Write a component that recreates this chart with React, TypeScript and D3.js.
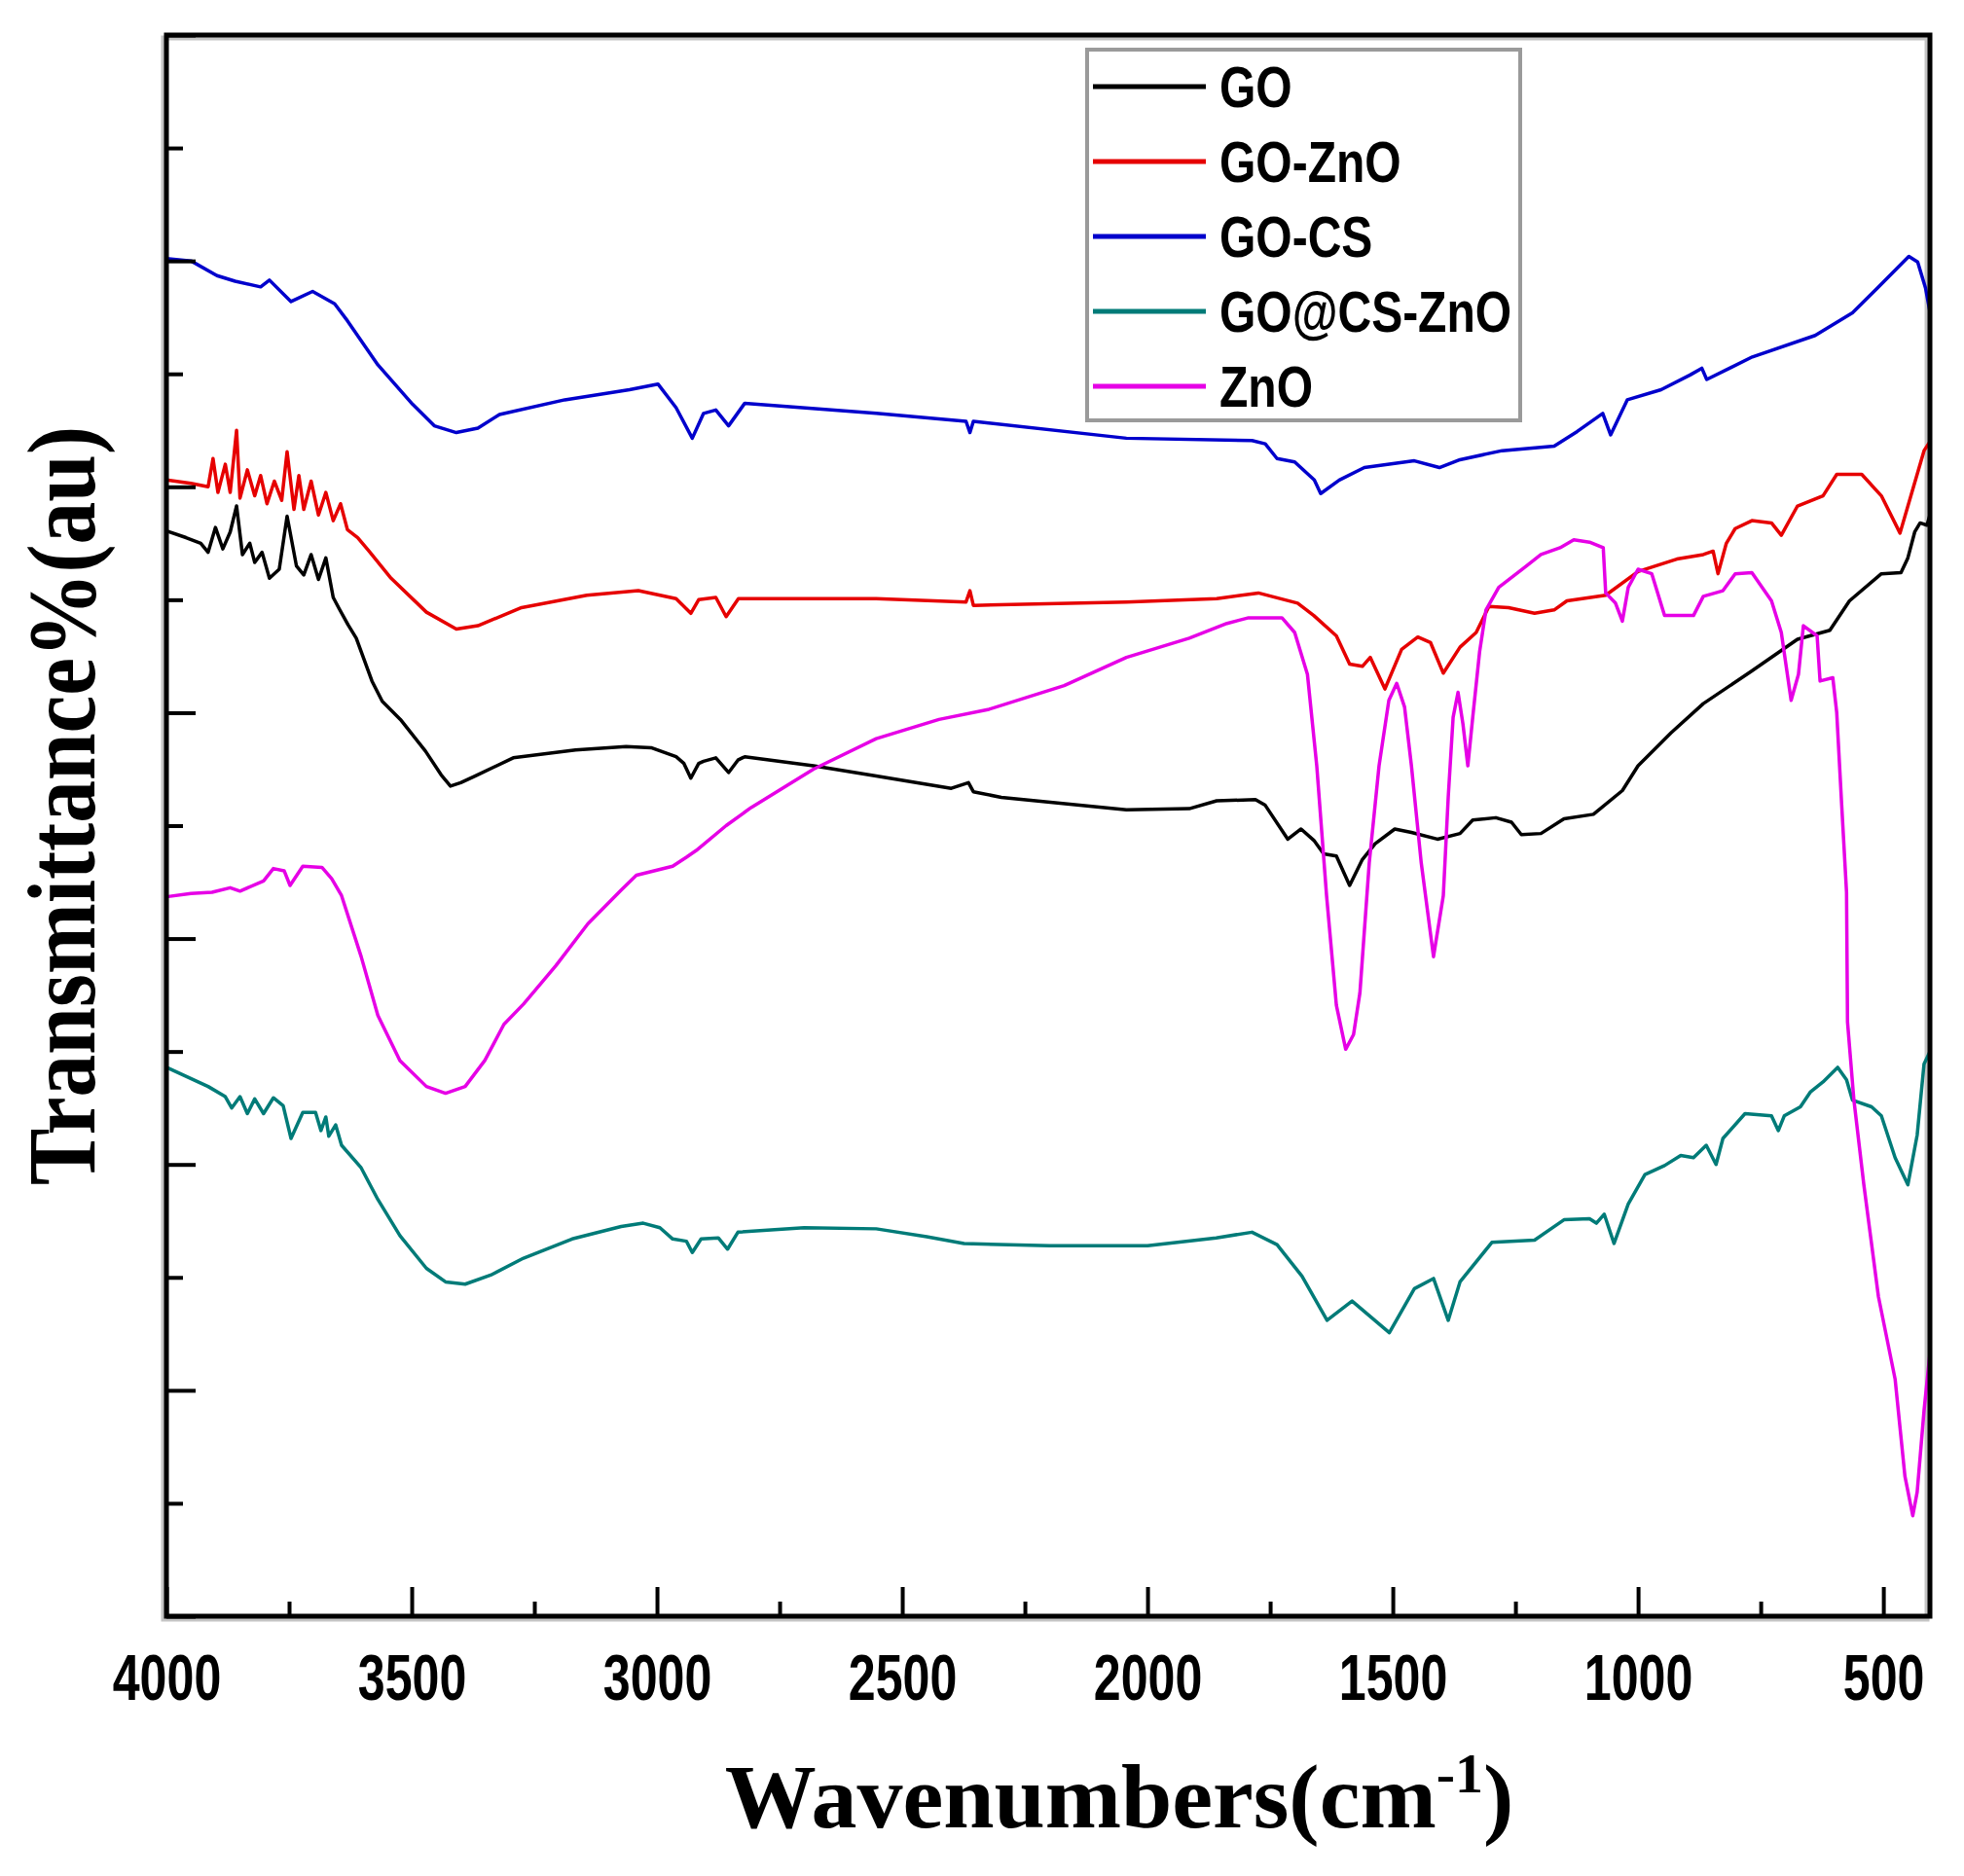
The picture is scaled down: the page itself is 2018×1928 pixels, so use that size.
import * as d3 from "d3";
import React, { useRef, useEffect } from "react";

type Pt = [number, number];

// [wavenumber (cm-1), transmittance (a.u.)]
const goData: Pt[] = [
  [4000, 9.61], [3960, 9.55], [3930, 9.5], [3915, 9.42], [3900, 9.64], [3885, 9.45], [3870, 9.6],
  [3857, 9.83], [3845, 9.4], [3830, 9.5], [3820, 9.33], [3805, 9.42], [3790, 9.19], [3770, 9.27],
  [3754, 9.74], [3735, 9.3], [3720, 9.22], [3705, 9.4], [3690, 9.18], [3675, 9.37], [3660, 9.02],
  [3649, 8.93], [3630, 8.78], [3613, 8.66], [3581, 8.28], [3560, 8.1], [3523, 7.94], [3472, 7.66],
  [3440, 7.45], [3421, 7.35], [3400, 7.38], [3370, 7.44], [3293, 7.6], [3166, 7.67], [3063, 7.7],
  [3012, 7.69], [2961, 7.61], [2945, 7.55], [2931, 7.42], [2915, 7.55], [2905, 7.57], [2880, 7.6],
  [2854, 7.47], [2835, 7.58], [2821, 7.61], [2681, 7.53], [2553, 7.44], [2400, 7.33], [2365, 7.38],
  [2355, 7.3], [2298, 7.25], [2043, 7.14], [1915, 7.15], [1859, 7.22], [1780, 7.23], [1760, 7.18],
  [1714, 6.88], [1687, 6.97], [1661, 6.87], [1641, 6.75], [1615, 6.73], [1588, 6.47], [1562, 6.7],
  [1536, 6.84], [1496, 6.97], [1462, 6.94], [1409, 6.88], [1363, 6.93], [1337, 7.05], [1290, 7.07],
  [1258, 7.03], [1238, 6.92], [1198, 6.93], [1151, 7.06], [1091, 7.1], [1032, 7.31], [1000, 7.53],
  [933, 7.82], [867, 8.08], [768, 8.37], [675, 8.65], [609, 8.73], [569, 8.99], [504, 9.23],
  [464, 9.24], [450, 9.37], [436, 9.6], [425, 9.68], [411, 9.66], [405, 9.75],
];

const goZnoData: Pt[] = [
  [4000, 10.06], [3950, 10.03], [3915, 10.0], [3905, 10.25], [3895, 9.95], [3880, 10.2], [3870, 9.95],
  [3857, 10.5], [3850, 9.9], [3835, 10.15], [3820, 9.92], [3808, 10.1], [3795, 9.85], [3780, 10.05],
  [3765, 9.88], [3754, 10.31], [3740, 9.8], [3730, 10.1], [3720, 9.8], [3705, 10.05], [3690, 9.75],
  [3675, 9.95], [3660, 9.7], [3645, 9.85], [3631, 9.62], [3610, 9.55], [3587, 9.43], [3542, 9.19],
  [3470, 8.89], [3409, 8.74], [3365, 8.77], [3276, 8.93], [3143, 9.04], [3038, 9.08], [2961, 9.01],
  [2931, 8.88], [2915, 9.0], [2880, 9.02], [2859, 8.85], [2834, 9.01], [2553, 9.01], [2370, 8.98],
  [2362, 9.08], [2355, 8.95], [2043, 8.98], [1859, 9.01], [1774, 9.06], [1694, 8.97], [1661, 8.86],
  [1615, 8.68], [1588, 8.43], [1562, 8.41], [1546, 8.49], [1516, 8.21], [1482, 8.56], [1449, 8.67],
  [1423, 8.62], [1397, 8.35], [1363, 8.58], [1330, 8.71], [1304, 8.94], [1264, 8.93], [1211, 8.88],
  [1171, 8.91], [1145, 8.99], [1066, 9.04], [1000, 9.25], [921, 9.36], [867, 9.4], [847, 9.43],
  [837, 9.23], [820, 9.5], [802, 9.63], [768, 9.7], [728, 9.68], [708, 9.57], [675, 9.83], [623, 9.92],
  [595, 10.11], [544, 10.11], [504, 9.92], [466, 9.59], [417, 10.32], [405, 10.4],
];

const goCsData: Pt[] = [
  [4000, 12.02], [3950, 12.0], [3897, 11.87], [3860, 11.82], [3808, 11.77], [3790, 11.83], [3746, 11.64],
  [3702, 11.73], [3657, 11.62], [3631, 11.47], [3569, 11.08], [3498, 10.73], [3454, 10.54], [3409, 10.48],
  [3365, 10.52], [3321, 10.64], [3188, 10.77], [3056, 10.86], [2998, 10.91], [2961, 10.7], [2928, 10.43],
  [2905, 10.65], [2880, 10.68], [2854, 10.54], [2821, 10.74], [2553, 10.65], [2370, 10.58], [2362, 10.48],
  [2355, 10.58], [2043, 10.43], [1787, 10.41], [1760, 10.38], [1736, 10.25], [1700, 10.22], [1660, 10.06],
  [1647, 9.94], [1609, 10.06], [1558, 10.17], [1507, 10.2], [1456, 10.23], [1405, 10.17], [1363, 10.24],
  [1277, 10.32], [1171, 10.36], [1124, 10.49], [1072, 10.65], [1056, 10.46], [1022, 10.77], [953, 10.86],
  [894, 10.99], [870, 11.05], [860, 10.95], [767, 11.15], [639, 11.34], [563, 11.54], [512, 11.76],
  [448, 12.04], [430, 11.99], [414, 11.76], [405, 11.55],
];

const goCsZnoData: Pt[] = [
  [4000, 4.86], [3915, 4.69], [3880, 4.6], [3867, 4.5], [3850, 4.6], [3835, 4.45], [3820, 4.58],
  [3802, 4.45], [3782, 4.59], [3762, 4.52], [3746, 4.23], [3722, 4.46], [3696, 4.46], [3685, 4.3],
  [3675, 4.42], [3669, 4.25], [3655, 4.35], [3643, 4.17], [3603, 3.97], [3569, 3.69], [3524, 3.37],
  [3470, 3.08], [3431, 2.96], [3391, 2.94], [3339, 3.02], [3272, 3.17], [3173, 3.34], [3073, 3.45],
  [3028, 3.48], [2994, 3.44], [2968, 3.34], [2940, 3.32], [2928, 3.22], [2910, 3.34], [2875, 3.35],
  [2856, 3.25], [2835, 3.4], [2700, 3.44], [2553, 3.43], [2450, 3.36], [2374, 3.3], [2200, 3.28],
  [2000, 3.28], [1860, 3.35], [1787, 3.4], [1736, 3.29], [1685, 3.01], [1634, 2.62], [1583, 2.79],
  [1507, 2.51], [1456, 2.9], [1417, 2.99], [1387, 2.62], [1363, 2.96], [1298, 3.31], [1211, 3.33],
  [1151, 3.51], [1099, 3.52], [1085, 3.48], [1069, 3.56], [1049, 3.3], [1020, 3.65], [986, 3.91],
  [946, 3.99], [913, 4.08], [887, 4.06], [861, 4.17], [841, 4.0], [827, 4.23], [782, 4.45], [728, 4.43],
  [714, 4.3], [702, 4.43], [669, 4.51], [649, 4.64], [623, 4.73], [593, 4.86], [575, 4.75], [563, 4.57],
  [524, 4.51], [504, 4.43], [476, 4.06], [450, 3.82], [431, 4.26], [417, 4.89], [405, 5.0],
];

const znoData: Pt[] = [
  [4000, 6.37], [3950, 6.4], [3907, 6.41], [3870, 6.45], [3850, 6.42], [3802, 6.51], [3782, 6.62],
  [3760, 6.6], [3748, 6.47], [3722, 6.64], [3683, 6.63], [3663, 6.53], [3643, 6.38], [3603, 5.84],
  [3569, 5.32], [3524, 4.92], [3470, 4.69], [3431, 4.63], [3391, 4.69], [3351, 4.92], [3312, 5.24],
  [3272, 5.42], [3206, 5.76], [3141, 6.13], [3073, 6.43], [3042, 6.56], [2968, 6.64], [2940, 6.72],
  [2920, 6.78], [2859, 7.0], [2808, 7.16], [2681, 7.5], [2553, 7.77], [2425, 7.94], [2323, 8.03],
  [2170, 8.24], [2043, 8.49], [1915, 8.66], [1838, 8.79], [1794, 8.84], [1726, 8.84], [1700, 8.71],
  [1674, 8.34], [1655, 7.53], [1635, 6.38], [1615, 5.41], [1596, 5.02], [1580, 5.15], [1567, 5.52],
  [1548, 6.67], [1528, 7.53], [1508, 8.11], [1492, 8.26], [1476, 8.05], [1462, 7.53], [1442, 6.67],
  [1417, 5.84], [1397, 6.38], [1387, 7.25], [1377, 7.96], [1367, 8.18], [1357, 7.9], [1347, 7.53],
  [1337, 7.96], [1323, 8.54], [1310, 8.91], [1284, 9.11], [1230, 9.29], [1198, 9.4], [1159, 9.46],
  [1131, 9.53], [1099, 9.51], [1071, 9.46], [1066, 9.06], [1046, 8.97], [1032, 8.81], [1020, 9.11],
  [1000, 9.27], [972, 9.23], [946, 8.86], [887, 8.86], [867, 9.03], [827, 9.08], [802, 9.23],
  [768, 9.24], [728, 8.99], [708, 8.71], [688, 8.11], [673, 8.34], [663, 8.77], [635, 8.68],
  [629, 8.28], [603, 8.31], [595, 8.0], [585, 7.19], [575, 6.41], [573, 5.26], [560, 4.57],
  [540, 3.83], [510, 2.83], [476, 2.1], [456, 1.24], [440, 0.89], [431, 1.1], [417, 1.82], [405, 2.33],
];

const seriesNames = ["GO", "GO-ZnO", "GO-CS", "GO@CS-ZnO", "ZnO"];
const seriesColors = ["#000000", "#e60000", "#0000cc", "#007b78", "#e600e6"];
const seriesData = [goData, goZnoData, goCsData, goCsZnoData, znoData];

const xMajorTicks = [4000, 3500, 3000, 2500, 2000, 1500, 1000, 500];
const xMinorTicks = [3750, 3250, 2750, 2250, 1750, 1250, 750];
const yMajorTicks = [0, 2, 4, 6, 8, 10, 12, 14];
const yMinorTicks = [1, 3, 5, 7, 9, 11, 13];

const App: React.FC = () => {
  const svgRef = useRef<SVGSVGElement>(null);

  useEffect(() => {
    const svg = d3.select(svgRef.current);
    svg.selectAll("*").remove();

    const width = 2018;
    const height = 1928;
    const left = 171;
    const right = 1983;
    const top = 36;
    const bottom = 1661;

    const x = d3.scaleLinear().domain([4000, 405]).range([left, right]);
    const y = d3.scaleLinear().domain([0, 14]).range([bottom, top]);

    svg.attr("width", width).attr("height", height).attr("viewBox", `0 0 ${width} ${height}`);
    svg.append("rect").attr("width", width).attr("height", height).attr("fill", "white");

    // soft shadow of the frame
    svg.append("rect")
      .attr("x", left - 3).attr("y", top + 3)
      .attr("width", right - left).attr("height", bottom - top)
      .attr("fill", "none").attr("stroke", "#c4c4c4").attr("stroke-width", 5);

    const line = d3.line<Pt>().x(d => x(d[0])).y(d => y(d[1]));

    svg.append("g")
      .selectAll("path")
      .data(seriesData)
      .join("path")
      .attr("fill", "none")
      .attr("stroke", (_, i) => seriesColors[i])
      .attr("stroke-width", 3.5)
      .attr("stroke-linejoin", "round")
      .attr("d", d => line(d));

    // bottom axis, ticks pointing inward
    const xAxis = svg.append("g")
      .attr("transform", `translate(0,${bottom})`)
      .call(d3.axisBottom(x).tickValues(xMajorTicks).tickSize(-30).tickFormat(d3.format("d")))
      .call(g => g.select(".domain").remove());
    xAxis.selectAll(".tick line").attr("stroke", "black").attr("stroke-width", 4);
    xAxis.selectAll(".tick text")
      .attr("y", 86).attr("dy", null)
      .attr("transform", "scale(0.76,1)")
      .attr("font-family", "Arial, 'Liberation Sans', sans-serif")
      .attr("font-weight", "bold")
      .attr("font-size", 66)
      .attr("fill", "black");

    svg.append("g")
      .attr("transform", `translate(0,${bottom})`)
      .call(d3.axisBottom(x).tickValues(xMinorTicks).tickSize(-15).tickFormat(() => ""))
      .call(g => g.select(".domain").remove())
      .call(g => g.selectAll(".tick line").attr("stroke", "black").attr("stroke-width", 4));

    // left axis, no labels
    svg.append("g")
      .attr("transform", `translate(${left},0)`)
      .call(d3.axisLeft(y).tickValues(yMajorTicks).tickSize(-30).tickFormat(() => ""))
      .call(g => g.select(".domain").remove())
      .call(g => g.selectAll(".tick line").attr("stroke", "black").attr("stroke-width", 4));

    svg.append("g")
      .attr("transform", `translate(${left},0)`)
      .call(d3.axisLeft(y).tickValues(yMinorTicks).tickSize(-17).tickFormat(() => ""))
      .call(g => g.select(".domain").remove())
      .call(g => g.selectAll(".tick line").attr("stroke", "black").attr("stroke-width", 4));

    // frame
    svg.append("rect")
      .attr("x", left).attr("y", top)
      .attr("width", right - left).attr("height", bottom - top)
      .attr("fill", "none").attr("stroke", "black").attr("stroke-width", 5);

    // legend
    const legend = svg.append("g").attr("transform", "translate(1117,51)");
    legend.append("rect")
      .attr("width", 445).attr("height", 381)
      .attr("fill", "white").attr("stroke", "#9a9a9a").attr("stroke-width", 4);
    const rows = legend.selectAll("g.row")
      .data(seriesNames)
      .join("g")
      .attr("class", "row")
      .attr("transform", (_, i) => `translate(0,${38 + i * 77})`);
    rows.append("line")
      .attr("x1", 6).attr("x2", 122)
      .attr("stroke", (_, i) => seriesColors[i])
      .attr("stroke-width", 5);
    rows.append("text")
      .attr("transform", "translate(136,21) scale(0.8,1)")
      .attr("font-family", "Arial, 'Liberation Sans', sans-serif")
      .attr("font-weight", "bold")
      .attr("font-size", 60)
      .attr("fill", "black")
      .text(d => d);

    // axis titles
    svg.append("text")
      .attr("transform", "translate(97,828) rotate(-90)")
      .attr("text-anchor", "middle")
      .attr("font-family", "'Liberation Serif', 'Times New Roman', serif")
      .attr("font-weight", "bold")
      .attr("font-size", 100)
      .attr("textLength", 780)
      .attr("lengthAdjust", "spacingAndGlyphs")
      .attr("fill", "black")
      .text("Transmittance%(au)");

    const xTitle = svg.append("text")
      .attr("x", 1150).attr("y", 1878)
      .attr("text-anchor", "middle")
      .attr("font-family", "'Liberation Serif', 'Times New Roman', serif")
      .attr("font-weight", "bold")
      .attr("font-size", 94)
      .attr("fill", "black");
    xTitle.append("tspan").text("Wavenumbers(cm");
    xTitle.append("tspan").attr("dy", -36).attr("font-size", 58).text("-1");
    xTitle.append("tspan").attr("dy", 36).text(")");
  }, []);

  return (
    <svg
      ref={svgRef}
      style={{ position: "absolute", left: 0, top: 0, display: "block" }}
    ></svg>
  );
};

export default App;
